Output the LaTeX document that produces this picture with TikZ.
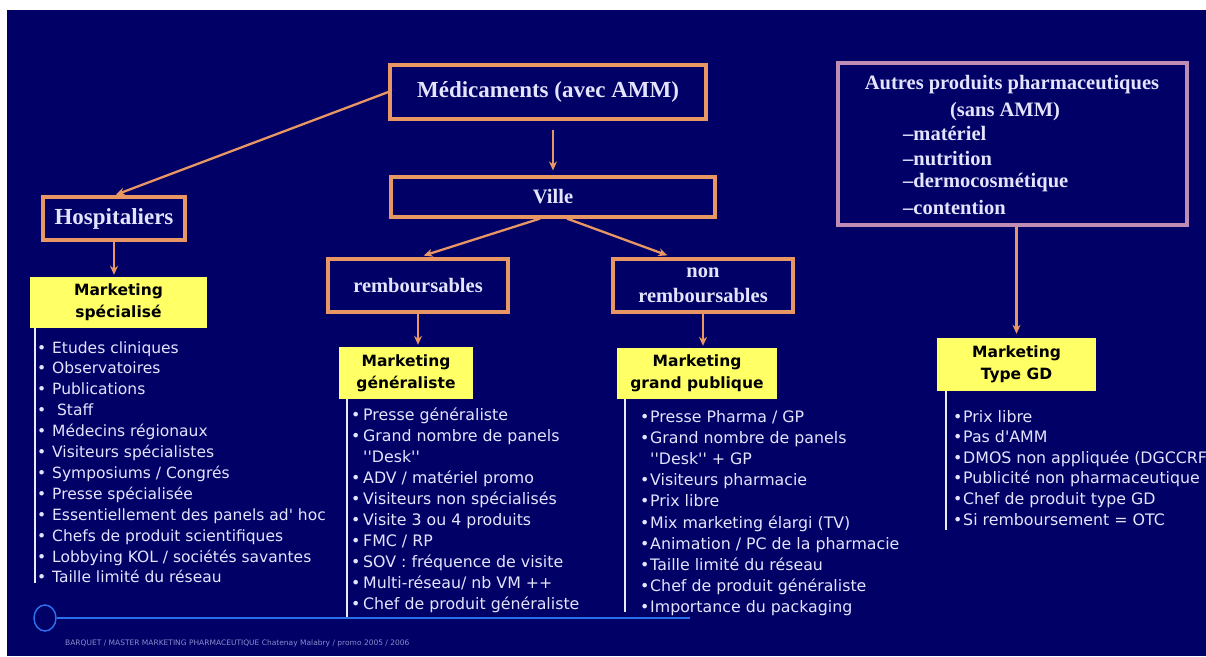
\documentclass[tikz,border=0pt]{standalone}
\usepackage{fontspec}
\setmainfont{Liberation Serif}
\newfontfamily\listfont{DejaVu Sans}
\usetikzlibrary{arrows.meta,shapes.geometric}

\definecolor{navy}{RGB}{0,0,102}
\definecolor{boxedge}{RGB}{232,150,100}
\definecolor{mauve}{RGB}{190,140,180}
\definecolor{paleyellow}{RGB}{255,255,102}
\definecolor{pale}{RGB}{228,228,255}
\definecolor{rulecol}{RGB}{235,235,245}
\definecolor{footblue}{RGB}{45,110,235}
\definecolor{foottext}{RGB}{140,140,205}

\newlength\bulw
\newcommand\bul{\makebox[\bulw][l]{•}}
\newcommand\nobul{\hspace*{\bulw}}

\tikzset{
  titlebox/.style={draw=boxedge, line width=3.2pt, fill=navy, text=pale, inner sep=0pt,
    align=center, font=\bfseries\fontsize{20.5}{25}\selectfont},
  bigtitle/.style={titlebox, font=\bfseries\fontsize{23}{27}\selectfont},
  mktbox/.style={fill=paleyellow, text=black, inner sep=0pt, align=center,
    font=\listfont\bfseries\fontsize{15.5}{22}\selectfont},
  item/.style={text=pale, inner sep=0pt, anchor=base west,
    font=\listfont\fontsize{15.5}{21}\selectfont},
  wideitem/.style={item, font=\listfont\fontsize{15.8}{21}\selectfont},
  otheritem/.style={text=pale, inner sep=0pt, font=\bfseries\fontsize{20.5}{25}\selectfont},
  arr/.style={draw=boxedge, line width=2.3pt, -{Stealth[length=9pt,width=8pt]}},
  vrule/.style={draw=rulecol, line width=1.6pt},
}

\begin{document}
\begin{tikzpicture}[x=1pt,y=-1pt]
  \useasboundingbox (0,0) rectangle (1206,656);
  \fill[white] (0,0) rectangle (1206,656);
  \fill[navy] (7,10) rectangle (1206,656);

  % top of the tree
  \node[bigtitle, minimum width=316pt, minimum height=54pt] (med) at (548,92) {Médicaments (avec AMM)};
  \node[titlebox, minimum width=324pt, minimum height=40pt] (ville) at (553,197) {Ville};
  \node[titlebox, minimum width=180pt, minimum height=53pt] (remb) at (418,285.5) {remboursables};
  \node[titlebox, minimum width=180pt, minimum height=53pt] (nonremb) at (703,285.5) {non\\remboursables};
  \node[bigtitle, minimum width=142pt, minimum height=43pt] (hosp) at (114,218.5) {Hospitaliers};

  % products without marketing authorisation
  \node[draw=mauve, line width=3.2pt, fill=navy, minimum width=349pt, minimum height=162pt] (autres) at (1012.5,144) {};
  \node[otheritem] (autrestitle) at (1012,85) {Autres produits pharmaceutiques};
  \node[otheritem] (sansamm) at (1005,112) {(sans AMM)};
  \node[otheritem, anchor=west] (a1) at (903,133) {–matériel};
  \node[otheritem, anchor=west] (a2) at (903,159) {–nutrition};
  \node[otheritem, anchor=west] (a3) at (903,183) {–dermocosmétique};
  \node[otheritem, anchor=west] (a4) at (903,207) {–contention};

  % marketing boxes
  \node[mktbox, minimum width=177pt, minimum height=51pt] (ms) at (118.5,302.5) {Marketing\\spécialisé};
  \node[mktbox, minimum width=134pt, minimum height=52pt] (mg) at (406,373) {Marketing\\généraliste};
  \node[mktbox, minimum width=160pt, minimum height=51pt] (mgp) at (697,373.5) {Marketing\\grand publique};
  \node[mktbox, minimum width=159pt, minimum height=53pt] (mtgd) at (1016.5,364.5) {Marketing\\Type GD};

  % connectors
  \draw[arr, shorten >=2pt] (med.west) -- (hosp.north);
  \draw[arr, shorten <=9pt, shorten >=5pt] (med.south -| ville) -- (ville.north);
  \draw[arr, shorten >=6pt] ([xshift=-13pt]ville.south) -- (remb.north);
  \draw[arr, shorten >=6pt] ([xshift=14pt]ville.south) -- ([xshift=-30pt]nonremb.north);
  \draw[arr, shorten >=2pt] (hosp.south) -- (hosp.south |- ms.north);
  \draw[arr, shorten >=2pt] (remb.south) -- (remb.south |- mg.north);
  \draw[arr, shorten >=2pt] (nonremb.south) -- (nonremb.south |- mgp.north);
  \draw[arr, shorten >=4pt] (autres.south -| mtgd) -- (mtgd.north);

  % rules running down the lists
  \coordinate (msend) at (35,583);
  \coordinate (mgend) at (347,617);
  \coordinate (mgpend) at (625,612);
  \coordinate (mtgdend) at (946,530);
  \draw[vrule] (ms.south west -| msend) -- (msend);
  \draw[vrule] (mg.south west -| mgend) -- (mgend);
  \draw[vrule] (mgp.south west -| mgpend) -- (mgpend);
  \draw[vrule] (mtgd.south west -| mtgdend) -- (mtgdend);

  % lists
  \setlength\bulw{15pt}
  \foreach \t [count=\i] in {Etudes cliniques, Observatoires, Publications, {\ Staff},
      Médecins régionaux, Visiteurs spécialistes, Symposiums /  Congrés,
      Presse spécialisée, Essentiellement des panels ad' hoc,
      Chefs de produit scientifiques, Lobbying KOL /  sociétés savantes,
      Taille limité du réseau}
    \node[item] (ms\i) at (37,{353+20.9*(\i-1)}) {\bul\t};

  \setlength\bulw{12pt}
  \foreach \t [count=\i] in {\bul Presse généraliste, \bul Grand nombre de panels,
      \nobul ''Desk'', \bul ADV /  matériel promo, \bul Visiteurs non spécialisés,
      \bul Visite 3 ou 4 produits, \bul FMC /  RP, \bul SOV : fréquence de visite,
      \bul Multi-réseau/ nb VM ++, \bul Chef de produit généraliste}
    \node[wideitem] (mg\i) at (351,{420+21.1*(\i-1)}) {\t};

  \setlength\bulw{10pt}
  \foreach \t [count=\i] in {\bul Presse Pharma /  GP, \bul Grand nombre de panels,
      \nobul ''Desk'' + GP, \bul Visiteurs pharmacie, \bul Prix libre,
      \bul Mix marketing élargi (TV), \bul Animation / PC de la pharmacie,
      \bul Taille limité du réseau, \bul Chef de produit généraliste,
      \bul Importance du packaging}
    \node[wideitem] (mgp\i) at (640,{422+21.2*(\i-1)}) {\t};

  \setlength\bulw{10pt}
  \foreach \t [count=\i] in {Prix libre, Pas d'AMM, DMOS non appliquée (DGCCRF),
      Publicité non pharmaceutique, Chef de produit type GD, Si remboursement = OTC}
    \node[wideitem] (gd\i) at (953,{422+20.6*(\i-1)}) {\bul\t};

  % footer
  \node[draw=footblue, line width=1.5pt, ellipse, minimum width=22pt, minimum height=26pt, inner sep=0pt] (ring) at (45,618) {};
  \coordinate (footend) at (690,618);
  \draw[footblue, line width=2.5pt] (ring.east) -- (footend);
  \node[text=foottext, anchor=west, inner sep=0pt, font=\listfont\fontsize{7.5}{9}\selectfont] (foot) at (65,643)
    {BARQUET / MASTER MARKETING PHARMACEUTIQUE Chatenay Malabry / promo 2005 / 2006};
\end{tikzpicture}
\end{document}
